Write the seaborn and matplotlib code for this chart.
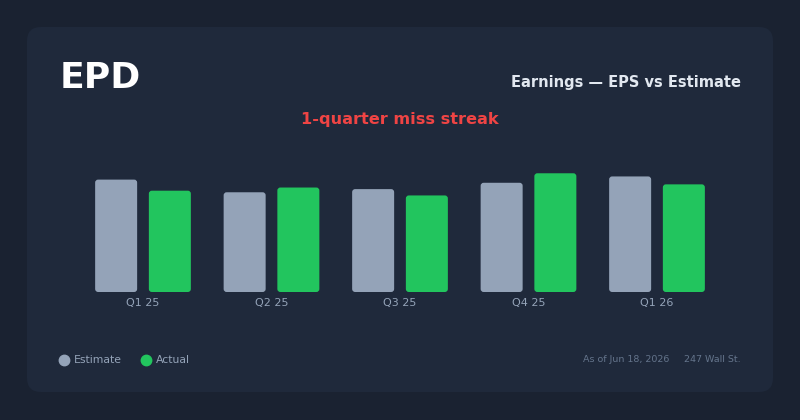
import matplotlib
matplotlib.use("Agg")
import matplotlib.pyplot as plt
from matplotlib.patches import FancyBboxPatch
from matplotlib.lines import Line2D
from matplotlib.transforms import IdentityTransform
import seaborn as sns
import pandas as pd

# ---- data ----
quarters = ["Q1 25", "Q2 25", "Q3 25", "Q4 25", "Q1 26"]
estimate = [0.71, 0.63, 0.65, 0.69, 0.73]
actual = [0.64, 0.66, 0.61, 0.75, 0.68]
series_names = ["Estimate", "Actual"]
ticker = "EPD"
chart_title = "Earnings — EPS vs Estimate"
streak_text = "1-quarter miss streak"
as_of = "As of Jun 18, 2026"
source = "247 Wall St."

# ---- colours ----
BG = "#1a2231"
CARD = "#1f293b"
EST_C = "#94a3b8"
ACT_C = "#22c55e"
RED = "#ef4444"
MUTED = "#64748b"

df = pd.DataFrame({
    "quarter": quarters * 2,
    "eps": estimate + actual,
    "series": [series_names[0]] * len(quarters) + [series_names[1]] * len(quarters),
})

sns.set_theme(style="white")
plt.rcParams["font.family"] = ["DejaVu Sans"]

W, H = 800, 420
fig = plt.figure(figsize=(8, 4.2), dpi=100, facecolor=BG)

# card
card = FancyBboxPatch((27, 28), 746, 365, boxstyle="round,pad=0,rounding_size=14",
                      transform=IdentityTransform(), facecolor=CARD, edgecolor="none", zorder=-10)
fig.patches.append(card)

# axes: baseline at y=292 px, categories spaced 128.5 px
ax_left = 78.75 / W
ax_width = 642.5 / W
ymax = 0.85
px_per_unit = 158.3
ax_height_px = ymax * px_per_unit
ax_bottom = (H - 292) / H
ax = fig.add_axes([ax_left, ax_bottom, ax_width, ax_height_px / H])
ax.set_facecolor("none")
ax.set_zorder(5)

sns.barplot(data=df, x="quarter", y="eps", hue="series", order=quarters,
            hue_order=series_names, palette=[EST_C, ACT_C], width=0.836, gap=0.218,
            saturation=1, legend=False, ax=ax, errorbar=None)

ax.set_xlim(-0.5, len(quarters) - 0.5)
ax.set_ylim(0, ymax)

# round the bar corners
x_units_per_px = 1 / 128.5
y_units_per_px = 1 / px_per_unit
for p in list(ax.patches):
    x, y, w, h = p.get_x(), p.get_y(), p.get_width(), p.get_height()
    fc = p.get_facecolor()
    p.remove()
    rp = FancyBboxPatch((x, y), w, h,
                        boxstyle=f"round,pad=0,rounding_size={3 * x_units_per_px}",
                        mutation_aspect=y_units_per_px / x_units_per_px,
                        facecolor=fc, edgecolor="none", zorder=2)
    ax.add_patch(rp)

for s in ax.spines.values():
    s.set_visible(False)
ax.set_yticks([])
ax.set_xlabel("")
ax.set_ylabel("")
ax.tick_params(axis="x", length=0, pad=4.5, labelsize=8, labelcolor=EST_C)

# texts
fig.text(60 / W, 1 - 88 / H, ticker, fontsize=26, fontweight="bold", color="white",
         ha="left", va="baseline")
fig.text(741 / W, 1 - 87 / H, chart_title, fontsize=10.5, fontweight="bold", color="#e2e8f0",
         ha="right", va="baseline")
fig.text(400 / W, 1 - 124 / H, streak_text, fontsize=11.6, fontweight="bold", color=RED,
         ha="center", va="baseline")

# legend
ly = 1 - 360 / H
fig.add_artist(Line2D([64 / W], [ly], marker="o", markersize=7.5, color=EST_C,
                      linestyle="none", transform=fig.transFigure))
fig.text(73.5 / W, ly, series_names[0], fontsize=7.8, color=EST_C, ha="left", va="center")
fig.add_artist(Line2D([146 / W], [ly], marker="o", markersize=7.5, color=ACT_C,
                      linestyle="none", transform=fig.transFigure))
fig.text(156 / W, ly, series_names[1], fontsize=7.8, color=EST_C, ha="left", va="center")

# footer
fig.text(669 / W, ly, as_of, fontsize=6.8, color=MUTED, ha="right", va="center")
fig.text(741 / W, ly, source, fontsize=6.8, color=MUTED, ha="right", va="center")

fig.savefig("out.png", dpi=100, facecolor=BG)
